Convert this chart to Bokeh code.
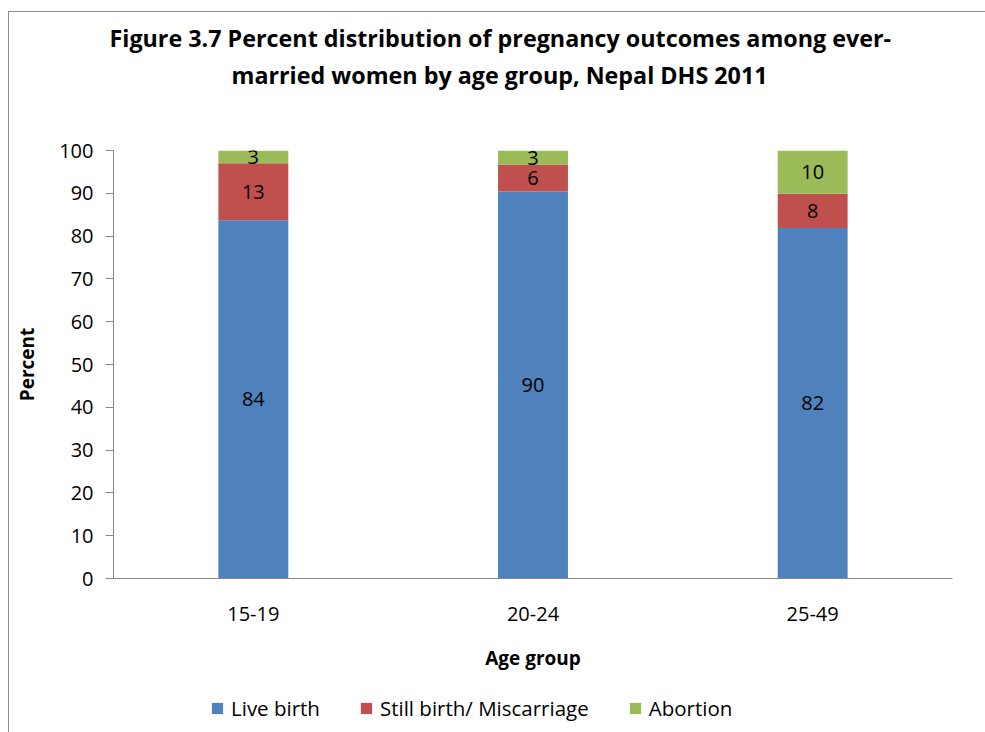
from bokeh.plotting import figure
from bokeh.layouts import column
from bokeh.models import ColumnDataSource, Range1d, LabelSet, Legend, LegendItem, FixedTicker, Title
from bokeh.core.properties import value
from bokeh.embed import file_html
from bokeh.resources import INLINE

categories = ["15-19", "20-24", "25-49"]
live_birth = [83.7, 90.4, 81.9]
still_birth = [13.3, 6.3, 8.0]
abortion = [3.0, 3.3, 10.1]
series_names = ["Live birth", "Still birth/ Miscarriage", "Abortion"]
colors = ["#4F81BD", "#C0504D", "#9BBB59"]
y_ticks = [0, 10, 20, 30, 40, 50, 60, 70, 80, 90, 100]
title_lines = ["Figure 3.7 Percent distribution of pregnancy outcomes among ever-",
               "married women by age group, Nepal DHS 2011"]

FONT = "Open Sans"

src = ColumnDataSource(dict(cat=categories, live=live_birth, still=still_birth, abort=abortion))

p = figure(x_range=categories, y_range=Range1d(0, 100), width=985, height=690,
           output_backend="svg", toolbar_location=None,
           min_border_left=113, min_border_top=150, min_border_right=33, min_border_bottom=112)
p.outline_line_color = None
p.grid.grid_line_color = None
p.border_fill_color = None
p.background_fill_color = None

p.vbar_stack(["live", "still", "abort"], x="cat", width=0.25, source=src,
             color=colors, line_color=None)

# data labels
lab_x, lab_y, lab_t = [], [], []
for i, c in enumerate(categories):
    base = 0
    for vals in (live_birth, still_birth, abortion):
        v = vals[i]
        lab_x.append(c)
        lab_y.append(base + v / 2)
        lab_t.append(str(int(round(v))))
        base += v
lsrc = ColumnDataSource(dict(x=lab_x, y=lab_y, t=lab_t))
p.add_layout(LabelSet(x="x", y="y", text="t", source=lsrc, text_align="center",
                      text_baseline="middle", text_font=value(FONT), text_font_size="20px",
                      text_color="#000000"))

# axes
p.yaxis.ticker = FixedTicker(ticks=y_ticks)
for ax in (p.xaxis[0], p.yaxis[0]):
    ax.axis_line_color = "#868686"
    ax.major_label_text_font = FONT
    ax.major_label_text_font_size = "20px"
    ax.major_label_text_color = "#000000"
    ax.axis_label_text_font = FONT
    ax.axis_label_text_font_size = "19px"
    ax.axis_label_text_font_style = "bold"
    ax.axis_label_text_color = "#000000"
    ax.minor_tick_line_color = None
p.yaxis.major_tick_line_color = "#868686"
p.yaxis.major_tick_out = 8
p.yaxis.major_tick_in = 0
p.yaxis.major_label_standoff = 12
p.xaxis.major_tick_line_color = None
p.xaxis.major_label_standoff = 22
p.xaxis.axis_label = "Age group"
p.xaxis.axis_label_standoff = 21
p.yaxis.axis_label = "Percent"
p.yaxis.axis_label_standoff = 16

# two-line title: spacer nearest the plot, then line 2, then line 1
p.title = None
tstyle = dict(text_font=FONT, text_font_size="23.3px", text_font_style="bold",
              text_color="#000000", align="left")
p.add_layout(Title(text=" ", standoff=26, **tstyle), "above")
p.add_layout(Title(text=title_lines[1], standoff=0, offset=118, **tstyle), "above")
p.add_layout(Title(text=title_lines[0], standoff=5, offset=-4, **tstyle), "above")

# legend strip
lg = figure(width=985, height=42, output_backend="svg", toolbar_location=None,
            x_range=Range1d(0, 1), y_range=Range1d(0, 1), min_border=0)
lg.axis.visible = False
lg.grid.grid_line_color = None
lg.outline_line_color = None
lg.border_fill_color = None
lg.background_fill_color = None
dummy = [lg.vbar(x=[0.5], top=[0], bottom=[0], width=0.1, color=c, line_color=None)
         for c in colors]
legend = Legend(items=[LegendItem(label=n, renderers=[rr]) for n, rr in zip(series_names, dummy)],
                orientation="horizontal", location=(97, 10),
                label_text_font=FONT, label_text_font_size="20.5px", label_text_color="#000000",
                glyph_width=14, glyph_height=14, spacing=39, label_standoff=7,
                border_line_color=None, background_fill_alpha=0, margin=0, padding=0)
lg.add_layout(legend)

frame_bg = ("linear-gradient(#8c8c8c, #8c8c8c) 8px 11px / 1px 100% no-repeat, "
            "linear-gradient(#8c8c8c, #8c8c8c) 8px 11px / 100% 1px no-repeat, #ffffff")
layout = column(p, lg, spacing=0, styles={"background": frame_bg})

open("out.html", "w").write(file_html(layout, INLINE))
